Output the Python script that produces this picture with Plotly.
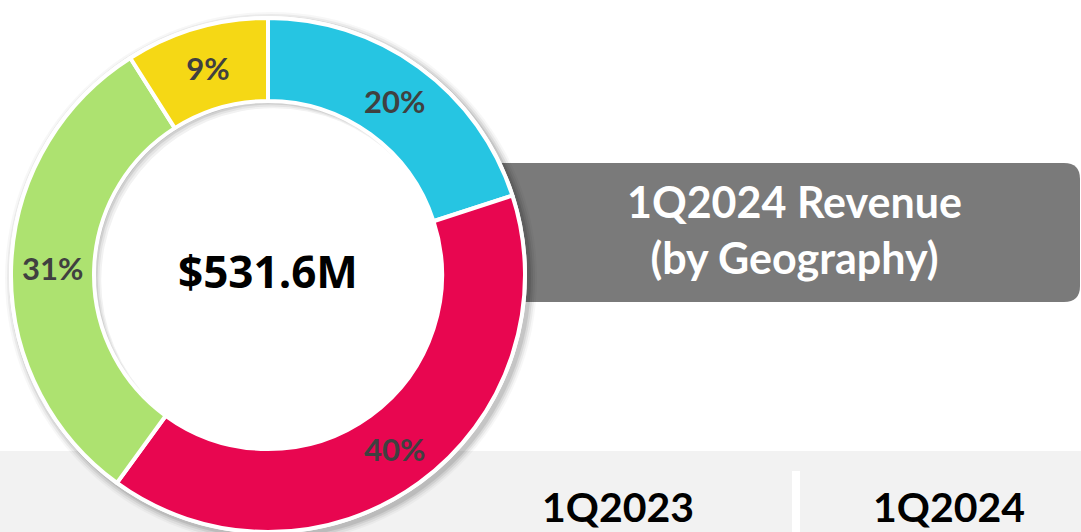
import plotly.graph_objects as go

W, H = 1081, 532

# ---- data ----
regions = ["Region 1", "Region 2", "Region 3", "Region 4"]
shares = [20, 40, 31, 9]
share_labels = ["20%", "40%", "31%", "9%"]
slice_colors = ["#26C5E2", "#E80650", "#ADE270", "#F5D815"]
total_label = "$531.6M"
banner_lines = ["1Q2024 Revenue", "(by Geography)"]
period_labels = ["1Q2023", "1Q2024"]

# ---- layout geometry (pixels) ----
CX, CY, R = 268, 275, 257
HOLE = 0.677
RH = R * HOLE


def X(px):
    return px / W


def Y(py):
    return 1 - py / H


def circle(cx, cy, r, fill, line_color="rgba(0,0,0,0)", lw=0, layer="below"):
    return dict(type="circle", xref="paper", yref="paper",
                x0=X(cx - r), x1=X(cx + r), y0=Y(cy + r), y1=Y(cy - r),
                fillcolor=fill, line=dict(color=line_color, width=lw), layer=layer)


def rounded_rect(x0, y0, x1, y1, rad, fill):
    rx, ry = rad / W, rad / H
    a0, a1, b0, b1 = X(x0), X(x1), Y(y1), Y(y0)  # b0 bottom, b1 top
    path = (f"M {a0+rx},{b1} L {a1-rx},{b1} Q {a1},{b1} {a1},{b1-ry} "
            f"L {a1},{b0+ry} Q {a1},{b0} {a1-rx},{b0} "
            f"L {a0+rx},{b0} Q {a0},{b0} {a0},{b0+ry} "
            f"L {a0},{b1-ry} Q {a0},{b1} {a0+rx},{b1} Z")
    return dict(type="path", xref="paper", yref="paper", path=path,
                fillcolor=fill, line=dict(width=0), layer="below")


shapes = []
# bottom band
shapes.append(dict(type="rect", xref="paper", yref="paper", x0=0, x1=1,
                   y0=0, y1=Y(451), fillcolor="#F2F2F2", line=dict(width=0), layer="below"))
# separator
shapes.append(dict(type="rect", xref="paper", yref="paper", x0=X(792), x1=X(800),
                   y0=0, y1=Y(471), fillcolor="#FFFFFF", line=dict(width=0), layer="below"))
# banner
shapes.append(rounded_rect(440, 163, 1080, 302, 16, "#7A7A7A"))
# outer drop shadow
for dr, op in [(9, 0.03), (7, 0.05), (5, 0.07), (3, 0.09)]:
    shapes.append(circle(CX + 3, CY + 3, R + dr, f"rgba(0,0,0,{op})"))
shapes.append(circle(CX, CY, R + 2, "#FFFFFF"))
# inner shadow inside the hole
shapes.append(circle(CX, CY, RH, "#B8B8B8"))
for d, col in [(2, "#D0D0D0"), (4, "#E4E4E4"), (6, "#F2F2F2"), (8, "#FFFFFF")]:
    shapes.append(circle(CX + d * 0.7, CY + d * 0.7, RH - d * 0.2, col))

fig = go.Figure()
fig.add_trace(go.Pie(
    labels=regions, values=shares, text=share_labels,
    textinfo="text", textposition="inside", insidetextorientation="horizontal",
    textfont=dict(family="Lato", size=31, color="#404040", weight="bold"),
    marker=dict(colors=slice_colors, line=dict(color="#FFFFFF", width=4)),
    hole=HOLE, sort=False, direction="clockwise", rotation=0,
    domain=dict(x=[X(CX - R), X(CX + R)], y=[Y(CY + R), Y(CY - R)]),
    showlegend=False, hoverinfo="label+percent",
))

annotations = [
    dict(text=total_label, x=X(CX), y=Y(271), xref="paper", yref="paper",
         showarrow=False, xanchor="center", yanchor="middle",
         font=dict(family="Open Sans", size=44, color="#000000", weight="bold")),
    dict(text="<br>".join(banner_lines), x=X(794), y=Y(230), xref="paper", yref="paper",
         showarrow=False, xanchor="center", yanchor="middle",
         font=dict(family="Lato", size=43, color="#FFFFFF", weight="bold")),
    dict(text=period_labels[0], x=X(618), y=0, xref="paper", yref="paper",
         showarrow=False, xanchor="center", yanchor="bottom", borderpad=0,
         font=dict(family="Lato", size=41, color="#000000", weight="bold")),
    dict(text=period_labels[1], x=X(949), y=0, xref="paper", yref="paper",
         showarrow=False, xanchor="center", yanchor="bottom", borderpad=0,
         font=dict(family="Lato", size=41, color="#000000", weight="bold")),
]

fig.update_layout(
    width=W, height=H, margin=dict(l=0, r=0, t=0, b=0),
    paper_bgcolor="#FFFFFF", plot_bgcolor="#FFFFFF",
    shapes=shapes, annotations=annotations,
)

fig.write_html("out.html", config={"displayModeBar": False},
               post_script="document.body.style.margin='0px';document.body.style.overflow='hidden';")
